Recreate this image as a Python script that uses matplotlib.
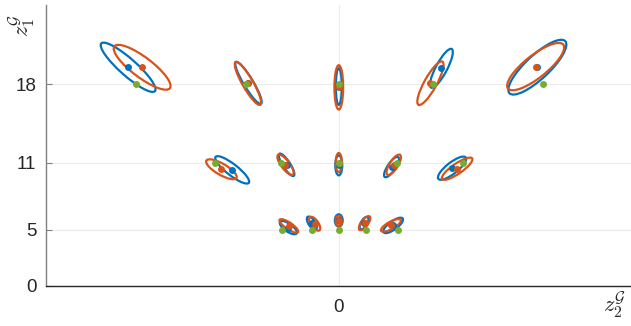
import matplotlib
matplotlib.use("Agg")
import matplotlib.pyplot as plt
from matplotlib.patches import Ellipse

# estimated means (blue / orange) and true points (green)
blue_x = [-18.78, -8.05, 0, 9.15, 17.7, -9.5, -4.65, 0, 4.7, 10.1, -4.5, -2.4, 0, 2.25, 4.85]
blue_y = [19.49, 18.1, 17.77, 19.4, 19.5, 10.35, 10.8, 10.75, 10.6, 10.5, 5.2, 5.6, 5.84, 5.6, 5.4]
blue_major = [6.4, 4.35, 3.27, 3.9, 6.8, 3.76, 2.35, 1.78, 2.14, 3.1, 1.8, 1.35, 1.1, 1.25, 2.1]
blue_minor = [1.5, 0.85, 0.53, 1.0, 2.1, 1.0, 0.65, 0.62, 0.7, 1.0, 0.7, 0.6, 0.7, 0.55, 0.75]
blue_angle = [-41.6, -59, 90, 62, 43, -38, -57, 90, 56, 38, -35, -57, 90, 60, 36]

orange_x = [-17.53, -8.1, 0, 8.17, 17.55, -10.46, -4.75, 0, 4.9, 10.55, -4.45, -2.15, 0, 2.3, 4.65]
orange_y = [19.49, 18.05, 17.7, 18.07, 19.55, 10.4, 10.8, 11.0, 10.8, 10.45, 5.35, 5.55, 5.8, 5.6, 5.4]
orange_major = [6.2, 4.4, 3.95, 4.4, 6.3, 3.1, 2.2, 1.7, 2.1, 3.25, 1.97, 1.45, 0.95, 1.5, 2.0]
orange_minor = [1.8, 0.95, 0.78, 1.1, 2.0, 1.0, 0.75, 0.55, 0.75, 0.9, 0.6, 0.65, 0.55, 0.6, 0.65]
orange_angle = [-37, -60, 90, 61, 38.5, -30, -53, 90, 58, 34.5, -34, -55, 90, 53, 29]

green_x = [-18.12, -8.3, 0, 8.4, 18.2, -11.05, -5.17, 0, 5.2, 11.08, -5.02, -2.35, 0, 2.45, 5.3]
green_y = [18, 18, 18, 18, 18, 11, 11, 11, 11, 11, 5, 5, 5, 5, 5]

yticks = [0, 5, 11, 18]

BLUE = "#0072BD"
ORANGE = "#D95319"
GREEN = "#77AC30"

plt.rcParams["font.family"] = "Liberation Sans"
plt.rcParams["mathtext.fontset"] = "cm"

fig = plt.figure(figsize=(6.31, 3.26), dpi=100)
ax = fig.add_axes([46 / 631, 40 / 326, 585 / 631, 281 / 326])

for x, y, a, b, ang in zip(blue_x, blue_y, blue_major, blue_minor, blue_angle):
    ax.add_patch(Ellipse((x, y), a, b, angle=ang, fill=False, ec=BLUE, lw=1.6, zorder=3))
for x, y, a, b, ang in zip(orange_x, orange_y, orange_major, orange_minor, orange_angle):
    ax.add_patch(Ellipse((x, y), a, b, angle=ang, fill=False, ec=ORANGE, lw=1.6, zorder=3))

ax.plot(blue_x, blue_y, "o", color=BLUE, ms=5, mec="none", zorder=4)
ax.plot(orange_x, orange_y, "o", color=ORANGE, ms=5, mec="none", zorder=4)
ax.plot(green_x, green_y, "o", color=GREEN, ms=5, mec="none", zorder=5)

ax.set_xlim(-26.1, 26.05)
ax.set_ylim(0, 25.04)

# grid lines
for yt in yticks[1:]:
    ax.axhline(yt, color="#ebebeb", lw=0.8, zorder=1)
ax.axvline(0, color="#ebebeb", lw=0.8, zorder=1)

ax.set_yticks(yticks)
ax.set_yticklabels([str(t) for t in yticks])
ax.set_xticks([0])
ax.set_xticklabels(["0"])
ax.tick_params(axis="y", direction="in", length=4.5, width=0.8, colors="#262626",
               labelsize=13.5, pad=7)
ax.tick_params(axis="y", color="#808080")
ax.tick_params(axis="x", length=0, colors="#262626", labelsize=13.5, pad=9)

for s in ["top", "right"]:
    ax.spines[s].set_visible(False)
ax.spines["left"].set_color("#808080")
ax.spines["left"].set_linewidth(1.0)
ax.spines["bottom"].set_color("#262626")
ax.spines["bottom"].set_linewidth(1.0)

fig.text(22 / 631, 1 - 25 / 326, r"$z_1^{\mathcal{G}}$", rotation=90, fontsize=16,
         ha="center", va="center", color="#262626")
fig.text(615 / 631, 1 - 305 / 326, r"$z_2^{\mathcal{G}}$", fontsize=16,
         ha="center", va="center", color="#262626")

fig.savefig("out.png", dpi=100)
